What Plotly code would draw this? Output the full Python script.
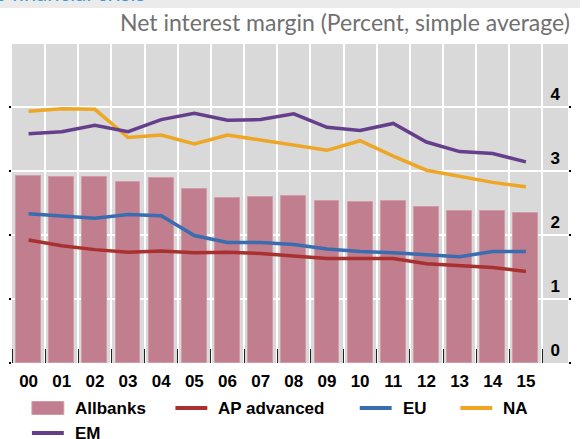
import plotly.graph_objects as go

# ---------------- data ----------------
years = ["00", "01", "02", "03", "04", "05", "06", "07", "08", "09", "10", "11", "12", "13", "14", "15"]
allbanks = [2.92, 2.91, 2.91, 2.82, 2.89, 2.71, 2.57, 2.59, 2.61, 2.53, 2.52, 2.53, 2.44, 2.38, 2.38, 2.34]
ap_advanced = [1.92, 1.83, 1.77, 1.73, 1.75, 1.72, 1.73, 1.71, 1.67, 1.63, 1.63, 1.63, 1.55, 1.52, 1.49, 1.43]
eu = [2.33, 2.30, 2.26, 2.32, 2.30, 1.99, 1.88, 1.88, 1.85, 1.78, 1.74, 1.72, 1.69, 1.66, 1.74, 1.74]
na = [3.93, 3.97, 3.96, 3.52, 3.56, 3.42, 3.56, 3.48, 3.40, 3.32, 3.47, 3.23, 3.01, 2.92, 2.82, 2.75]
em = [3.58, 3.61, 3.71, 3.61, 3.80, 3.90, 3.79, 3.80, 3.89, 3.68, 3.63, 3.74, 3.45, 3.30, 3.27, 3.14]
y_ticks = [0, 1, 2, 3, 4]
y_ticktext = ["0", "1", "2", "3", "4"]

series_names = ["Allbanks", "AP advanced", "EU", "NA", "EM"]
colors = {"Allbanks": "#c17e8f", "AP advanced": "#a8302f", "EU": "#3a6db0",
          "NA": "#eea624", "EM": "#653f8b"}

W, H = 582, 439
L, R, T, B = 12, 12, 44, 76
PW, PH = W - L - R, H - T - B


def px(x):
    return (x - L) / PW


def py(y):
    return (H - B - y) / PH


xpos = list(range(len(years)))
fig = go.Figure()
fig.add_trace(go.Bar(x=xpos, y=allbanks, width=0.75, name="Allbanks",
                     marker=dict(color=colors["Allbanks"], line=dict(color="#d39aa7", width=1))))
for name, vals in [("AP advanced", ap_advanced), ("EU", eu), ("NA", na), ("EM", em)]:
    fig.add_trace(go.Scatter(x=xpos, y=vals, mode="lines", name=name,
                             line=dict(color=colors[name], width=3.5)))

bold = dict(family="Liberation Sans, Arial, sans-serif", size=17, color="black", weight="bold")

fig.update_layout(
    width=W, height=H,
    margin=dict(l=L, r=R, t=T, b=B, pad=0),
    plot_bgcolor="#d9d9d9", paper_bgcolor="white",
    showlegend=False,
    bargap=0,
    xaxis=dict(range=[-0.5, 16.27], tickmode="array", tickvals=xpos, ticktext=years,
               showgrid=False, zeroline=False, ticks="", tickfont=bold,
               ticklabelstandoff=6,
               minor=dict(tick0=0.5, dtick=1, showgrid=True, gridcolor="white", gridwidth=1.5,
                          ticks="inside", ticklen=14, tickwidth=1.2, tickcolor="#222")),
    yaxis=dict(range=[0, 4.98], tickmode="array", tickvals=y_ticks, ticktext=y_ticktext,
               side="right", ticklabelposition="inside", ticklabelshift=-13, ticklabelstandoff=5,
               showgrid=True, gridcolor="white", gridwidth=1.5, zeroline=False,
               ticks="outside", ticklen=2, tickwidth=1.5, tickcolor="black", mirror="ticks",
               tickfont=bold),
)

shapes = []
annotations = []
# top strip with cut-off heading
shapes.append(dict(type="rect", xref="paper", yref="paper", x0=px(0), x1=px(W), y0=py(0), y1=py(8),
                   fillcolor="#ebebeb", line=dict(width=0), layer="below"))
annotations.append(dict(xref="paper", yref="paper", x=px(147), y=py(-7), xanchor="right", yanchor="middle",
                        text="the financial crisis", showarrow=False,
                        font=dict(family="Lato, sans-serif", size=22, color="#3a9ad9")))
# title
annotations.append(dict(xref="paper", yref="paper", x=px(574), y=py(22), xanchor="right", yanchor="middle",
                        text="Net interest margin (Percent, simple average)", showarrow=False,
                        font=dict(family="Lato, sans-serif", size=23, color="#707070")))

# manual legend
legend_pos = {"Allbanks": (32, 408), "AP advanced": (176, 408), "EU": (361, 408),
              "NA": (462, 408), "EM": (32, 433)}
for name in series_names:
    x0, yc = legend_pos[name]
    if name == "Allbanks":
        shapes.append(dict(type="rect", xref="paper", yref="paper", x0=px(x0), x1=px(x0 + 32),
                           y0=py(yc - 6.5), y1=py(yc + 6.5), fillcolor=colors[name],
                           line=dict(color="#d39aa7", width=1)))
    else:
        shapes.append(dict(type="line", xref="paper", yref="paper", x0=px(x0), x1=px(x0 + 32),
                           y0=py(yc), y1=py(yc), line=dict(color=colors[name], width=4)))
    annotations.append(dict(xref="paper", yref="paper", x=px(x0 + 41), y=py(yc), xanchor="left",
                            yanchor="middle", text=name, showarrow=False, font=bold))

fig.update_layout(shapes=shapes, annotations=annotations)
fig.write_html("out.html", config={"displayModeBar": False},
               post_script="document.body.style.margin='0';")
